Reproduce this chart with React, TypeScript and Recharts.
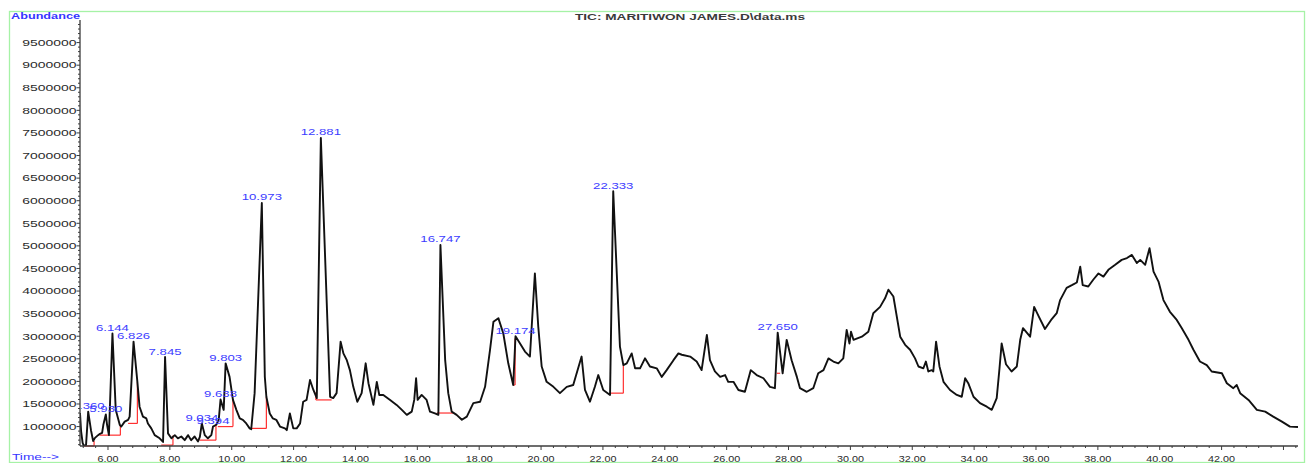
import React from 'react';
import { ComposedChart, Line, Scatter, XAxis, YAxis, ReferenceLine } from 'recharts';

// Total ion chromatogram: retention time (min) vs abundance
const traceTime = [
  5.095, 5.13, 5.18, 5.22, 5.29, 5.36, 5.45, 5.52, 5.58, 5.68, 5.74, 5.81, 5.85, 5.93, 5.97, 6.03,
  6.144, 6.25, 6.38, 6.43, 6.54, 6.65, 6.7, 6.826, 6.95, 7.02, 7.13, 7.24, 7.29, 7.4, 7.51, 7.67,
  7.78, 7.845, 7.94, 8.05, 8.16, 8.26, 8.37, 8.48, 8.59, 8.69, 8.8, 8.91, 8.97, 9.034, 9.13, 9.23,
  9.34, 9.394, 9.5, 9.58, 9.638, 9.74, 9.803, 9.93, 10.04, 10.15, 10.26, 10.36, 10.47, 10.58, 10.63,
  10.74, 10.973, 11.07, 11.12, 11.23, 11.33, 11.44, 11.56, 11.72, 11.78, 11.88, 11.99, 12.1, 12.21,
  12.31, 12.42, 12.53, 12.64, 12.75, 12.881, 13.18, 13.28, 13.39, 13.52, 13.61, 13.72, 13.82, 13.93,
  14.06, 14.2, 14.33, 14.42, 14.58, 14.69, 14.77, 14.9, 15.12, 15.33, 15.5, 15.66, 15.82, 15.9, 15.96,
  16.01, 16.14, 16.3, 16.41, 16.57, 16.68, 16.747, 16.9, 17.0, 17.11, 17.27, 17.44, 17.6, 17.81, 18.03,
  18.19, 18.35, 18.46, 18.62, 18.78, 18.94, 19.1, 19.174, 19.32, 19.48, 19.64, 19.8, 19.91, 20.02,
  20.18, 20.4, 20.61, 20.83, 21.04, 21.31, 21.42, 21.58, 21.74, 21.85, 22.01, 22.23, 22.333, 22.55,
  22.66, 22.77, 22.93, 23.04, 23.2, 23.36, 23.52, 23.74, 23.9, 24.06, 24.28, 24.44, 24.55, 24.82,
  25.03, 25.19, 25.36, 25.46, 25.62, 25.79, 25.95, 26.05, 26.22, 26.38, 26.59, 26.78, 26.97, 27.19,
  27.4, 27.56, 27.65, 27.81, 27.94, 28.1, 28.27, 28.37, 28.59, 28.8, 28.96, 29.13, 29.29, 29.45,
  29.61, 29.77, 29.88, 29.97, 30.02, 30.1, 30.37, 30.58, 30.74, 30.96, 31.12, 31.23, 31.39, 31.61,
  31.77, 31.93, 32.09, 32.2, 32.36, 32.44, 32.52, 32.63, 32.68, 32.77, 32.88, 33.01, 33.22, 33.44,
  33.6, 33.71, 33.81, 33.98, 34.19, 34.41, 34.57, 34.73, 34.82, 34.89, 35.03, 35.21, 35.38, 35.49,
  35.58, 35.81, 35.94, 36.08, 36.29, 36.51, 36.67, 36.78, 36.99, 37.16, 37.32, 37.43, 37.51, 37.69,
  37.85, 38.02, 38.18, 38.34, 38.56, 38.77, 38.94, 39.1, 39.26, 39.37, 39.53, 39.67, 39.8, 39.96,
  40.12, 40.33, 40.55, 40.71, 40.93, 41.09, 41.3, 41.52, 41.68, 42.01, 42.17, 42.38, 42.49, 42.6,
  42.87, 43.14, 43.41, 43.67, 43.95, 44.21, 44.47,
];

const traceAbundance = [
  1300000, 900000, 640000, 570000, 590000, 1330000, 920000, 680000, 750000, 810000, 840000, 860000, 1040000, 1270000, 1040000, 810000,
  3060000, 1370000, 1040000, 1000000, 1110000, 1150000, 1220000, 2880000, 1990000, 1440000, 1220000, 1180000, 1070000, 960000, 810000, 740000,
  660000, 2540000, 850000, 740000, 810000, 740000, 780000, 700000, 810000, 700000, 780000, 670000, 770000, 1070000, 810000, 740000,
  810000, 1000000, 1040000, 1150000, 1600000, 1370000, 2400000, 2100000, 1590000, 1370000, 1180000, 1150000, 1070000, 960000, 940000,
  1740000, 5950000, 2100000, 1660000, 1290000, 1180000, 1150000, 1000000, 960000, 920000, 1290000, 960000, 960000, 1070000,
  1550000, 1590000, 2030000, 1810000, 1630000, 7390000, 1660000, 1630000, 1740000, 2880000, 2620000, 2470000, 2250000, 1880000,
  1550000, 1740000, 2400000, 1960000, 1480000, 1990000, 1700000, 1700000, 1590000, 1480000, 1370000, 1260000, 1330000, 1590000, 2070000,
  1590000, 1700000, 1590000, 1330000, 1290000, 1260000, 5020000, 2470000, 1740000, 1330000, 1260000, 1150000, 1220000, 1520000, 1550000,
  1880000, 2700000, 3320000, 3400000, 3060000, 2400000, 1920000, 3000000, 2840000, 2660000, 2550000, 4390000, 3210000, 2330000,
  1990000, 1880000, 1740000, 1880000, 1920000, 2550000, 1810000, 1550000, 1880000, 2140000, 1810000, 1700000, 6210000, 2770000,
  2360000, 2400000, 2620000, 2290000, 2290000, 2510000, 2330000, 2290000, 2100000, 2250000, 2470000, 2620000, 2590000, 2550000,
  2440000, 2250000, 3030000, 2470000, 2220000, 2100000, 2140000, 1990000, 1990000, 1810000, 1770000, 2250000, 2140000, 2070000,
  1880000, 1850000, 3080000, 2180000, 2920000, 2470000, 2100000, 1850000, 1770000, 1850000, 2180000, 2250000, 2510000, 2440000,
  2400000, 2510000, 3140000, 2840000, 3100000, 2920000, 2990000, 3100000, 3510000, 3650000, 3840000, 4030000, 3880000, 2990000,
  2810000, 2700000, 2510000, 2330000, 2290000, 2440000, 2220000, 2250000, 2220000, 2880000, 2330000, 1990000, 1810000, 1700000,
  1660000, 2070000, 1960000, 1660000, 1520000, 1440000, 1370000, 1630000, 2290000, 2840000, 2380000, 2220000, 2330000, 2920000,
  3180000, 2990000, 3650000, 3450000, 3160000, 3380000, 3510000, 3800000, 4070000, 4130000, 4190000, 4540000, 4130000, 4100000,
  4250000, 4390000, 4320000, 4470000, 4580000, 4690000, 4730000, 4800000, 4620000, 4690000, 4580000, 4950000, 4430000, 4210000,
  3800000, 3540000, 3360000, 3180000, 2920000, 2700000, 2440000, 2360000, 2220000, 2180000, 1960000, 1850000, 1920000, 1740000,
  1590000, 1370000, 1330000, 1220000, 1110000, 1000000, 990000,
];

// Integrated peaks (retention time labels)
const peakTimes = [5.36, 5.93, 6.144, 6.826, 7.845, 9.034, 9.394, 9.638, 9.803, 10.973, 12.881, 16.747, 19.174, 22.333, 27.65];

// Integration baselines: start, end, baseline level, and the drop line at one end
const baselineStart = [5.23, 5.73, 6.65, 7.72, 8.96, 9.55, 10.63, 12.72, 16.63, 19.1, 22.23, 27.62];
const baselineEnd = [5.55, 6.4, 6.95, 8.1, 9.49, 10.04, 11.12, 13.23, 17.17, 19.16, 22.66, 27.73];
const baselineLevel = [570000, 810000, 1070000, 590000, 700000, 1000000, 960000, 1590000, 1300000, 1920000, 1740000, 2180000];
const dropTime = [5.55, 6.4, 6.95, 8.1, 9.49, 10.04, 11.12, 12.72, null, 19.16, 22.66, null];
const dropTop = [680000, 1010000, 1990000, 800000, 1040000, 1590000, 1660000, 1760000, null, 2950000, 2360000, null];

const xLabelTicks = [6, 8, 10, 12, 14, 16, 18, 20, 22, 24, 26, 28, 30, 32, 34, 36, 38, 40, 42];
const yLabelTicks = [
  1000000, 1500000, 2000000, 2500000, 3000000, 3500000, 4000000, 4500000, 5000000,
  5500000, 6000000, 6500000, 7000000, 7500000, 8000000, 8500000, 9000000, 9500000,
];

const trace = traceTime.map((t, i) => ({ t, v: traceAbundance[i] }));
const peaks = peakTimes.map((t) => ({
  t,
  v: traceAbundance[traceTime.indexOf(t)],
  label: t.toFixed(3),
}));

// minor ticks every 0.4 min / 100000 counts
const xTicks: number[] = [];
for (let i = 13; i <= 111; i++) xTicks.push(Number((i * 0.4).toFixed(1)));
const yTicks: number[] = [];
for (let i = 6; i <= 99; i++) yTicks.push(i * 100000);

const FONT = '"Liberation Sans", Arial, sans-serif';
const AXIS = '#3c3c3c';

const renderXTick = (props: any) => {
  const { x, y, payload } = props;
  const t = payload.value as number;
  const isMajor = Math.abs(t / 2 - Math.round(t / 2)) < 1e-6;
  const hasLabel = xLabelTicks.includes(Math.round(t)) && isMajor;
  return (
    <g>
      <line x1={x} x2={x} y1={y} y2={y + (isMajor ? 4 : 2)} stroke={AXIS} strokeWidth={1} />
      {hasLabel && (
        <text
          transform={`translate(${x},${y + 15.5}) scale(1.2,1)`}
          textAnchor="middle"
          fontSize={9}
          fontFamily={FONT}
          fill="#2a2a2a"
        >
          {t.toFixed(2)}
        </text>
      )}
    </g>
  );
};

const renderYTick = (props: any) => {
  const { x, y, payload } = props;
  const v = payload.value as number;
  const hasLabel = yLabelTicks.includes(v);
  return (
    <g>
      <line x1={x} x2={x - (hasLabel ? 3.5 : 2)} y1={y} y2={y} stroke={AXIS} strokeWidth={1} />
      {hasLabel && (
        <text
          transform={`translate(${x - 3.5},${y + 3.3}) scale(1.55,1)`}
          textAnchor="end"
          fontSize={9}
          fontFamily={FONT}
          fill="#2a2a2a"
        >
          {v}
        </text>
      )}
    </g>
  );
};

const renderPeakLabel = (props: any) => {
  const { cx, cy, payload } = props;
  return (
    <g clipPath="url(#peak-label-clip)">
      <text
        transform={`translate(${cx},${cy - 2.5}) scale(1.55,1)`}
        textAnchor="middle"
        fontSize={8.5}
        fontFamily={FONT}
        fill="#3c3cff"
      >
        {payload.label}
      </text>
    </g>
  );
};

export default function App() {
  return (
    <div style={{ position: 'absolute', left: 0, top: 0, width: 1306, height: 463, background: '#fff' }}>
      <div style={{ position: 'absolute', left: 0, top: 0 }}>
        <ComposedChart width={1306} height={463} data={trace} margin={{ top: 20, right: 8, bottom: 0, left: 0 }}>
          <XAxis
            type="number"
            dataKey="t"
            domain={[5.095, 44.47]}
            allowDataOverflow
            ticks={xTicks}
            interval={0}
            tickSize={0}
            tickMargin={0}
            tickLine={false}
            tick={renderXTick}
            axisLine={{ stroke: AXIS, strokeWidth: 1.3 }}
            height={17}
          />
          <YAxis
            type="number"
            domain={[570000, 10000000]}
            allowDataOverflow
            ticks={yTicks}
            interval={0}
            tickSize={0}
            tickMargin={0}
            tickLine={false}
            tick={renderYTick}
            axisLine={{ stroke: AXIS, strokeWidth: 1.3 }}
            width={80}
          />
          {baselineStart.map((s, i) => (
            <ReferenceLine
              key={`base-${i}`}
              segment={[
                { x: s, y: baselineLevel[i] },
                { x: baselineEnd[i], y: baselineLevel[i] },
              ]}
              stroke="#ff3030"
              strokeWidth={1.2}
              ifOverflow="visible"
            />
          ))}
          {dropTime.map((d, i) =>
            d === null ? null : (
              <ReferenceLine
                key={`drop-${i}`}
                segment={[
                  { x: d, y: baselineLevel[i] },
                  { x: d, y: dropTop[i] as number },
                ]}
                stroke="#ff3030"
                strokeWidth={1.2}
                ifOverflow="visible"
              />
            )
          )}
          <Line
            type="linear"
            dataKey="v"
            stroke="#111"
            strokeWidth={1.9}
            strokeLinejoin="round"
            dot={false}
            activeDot={false}
            isAnimationActive={false}
          />
          <Scatter data={peaks} dataKey="v" shape={renderPeakLabel} isAnimationActive={false} />
        </ComposedChart>
      </div>
      <svg width={1306} height={463} style={{ position: 'absolute', left: 0, top: 0, pointerEvents: 'none' }}>
        <defs>
          <clipPath id="peak-label-clip" clipPathUnits="userSpaceOnUse">
            <rect x={81} y={0} width={1225} height={463} />
          </clipPath>
        </defs>
        <rect x={9.5} y={11.5} width={1295} height={451} fill="none" stroke="#a6f2a6" strokeWidth={1.3} />
        <text x={11} y={19} textLength={69} lengthAdjust="spacingAndGlyphs" fontSize={9} fontWeight="bold" fontFamily={FONT} fill="#3535ff">
          Abundance
        </text>
        <text x={575} y={19.5} textLength={230} lengthAdjust="spacingAndGlyphs" fontSize={8.5} fontWeight="bold" fontFamily={FONT} fill="#3a3a3a">
          {'TIC: MARITIWON JAMES.D\\data.ms'}
        </text>
        <text x={12} y={459.5} textLength={47} lengthAdjust="spacingAndGlyphs" fontSize={8.5} fontFamily={FONT} fill="#3535ff">
          {'Time-->'}
        </text>
      </svg>
    </div>
  );
}
